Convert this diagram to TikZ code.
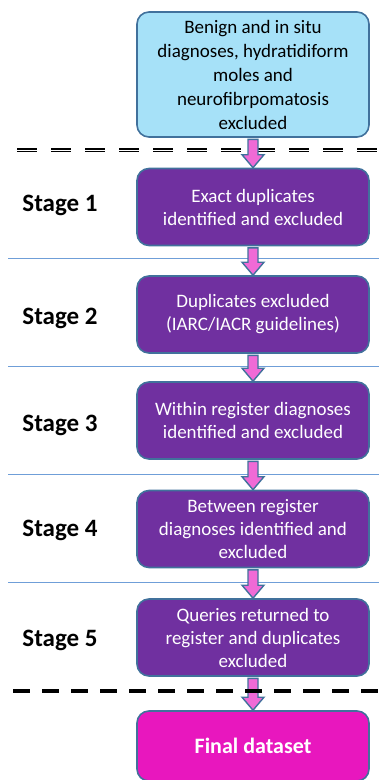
\documentclass[tikz,border=0pt]{standalone}
\usepackage{fontspec}
\setmainfont{Carlito}
\usetikzlibrary{calc}
\definecolor{boxblue}{HTML}{A6E1F8}
\definecolor{boxpurple}{HTML}{7030A0}
\definecolor{boxpink}{HTML}{E817BE}
\definecolor{edgeblue}{HTML}{41719C}
\definecolor{arrowpink}{HTML}{F06AD6}
\definecolor{rulerblue}{HTML}{6F9ED8}
\tikzset{
  stagebox/.style = {draw=edgeblue, line width=1.6pt, rounded corners=12pt,
    minimum width=232pt, align=center, inner sep=2pt,
    font=\fontsize{19}{23}\selectfont},
  intro_box/.style = {stagebox, fill=boxblue, text=black,
    minimum height=125pt, font=\fontsize{19}{24}\selectfont},% boite du haut
  step_box/.style = {stagebox, fill=boxpurple, text=white,
    minimum height=77pt},% etapes 1 a 5
  final_box/.style = {stagebox, fill=boxpink, text=white,
    minimum height=70pt, font=\fontsize{22}{24}\selectfont\bfseries},
  stage_label/.style = {font=\fontsize{25}{28}\selectfont\bfseries},
  block_arrow/.style = {draw=edgeblue, fill=arrowpink, line width=1.4pt,
    line join=miter},
  stage_rule/.style = {draw=rulerblue, line width=0.8pt},
  cut_line/.style = {draw=black, line width=4pt, dash pattern=on 17pt off 12pt}
}
% fleche epaisse entre deux boites
\newcommand{\blockarrow}[2]{%
  \path[block_arrow] let \p1=($(#1.south)+(0,-1.5pt)$), \p2=(#2.north) in
    (\x1-5pt,\y1) -- (\x1+5pt,\y1) -- (\x1+5pt,\y2+13pt) -- (\x1+11pt,\y2+13pt)
    -- (\x1,\y2) -- (\x1-11pt,\y2+13pt) -- (\x1-5pt,\y2+13pt) -- cycle;}

\begin{document}
\begin{tikzpicture}[x=1pt, y=-1pt]
  \useasboundingbox (0,0) rectangle (379,780);
  % separateurs
  \foreach \ypos in {258,366,474,582}
    \draw[stage_rule] (8,\ypos) -- (379,\ypos);
  \draw[line width=4pt, dash pattern=on 20pt off 14pt] (17,150) -- (379,150);
  \draw[white, line width=1pt, dash pattern=on 20pt off 14pt] (17,150) -- (379,150);

  \node[intro_box] (intro) at (253,74.5) {Benign and in situ\\diagnoses, hydratidiform\\moles and\\neurofibrpomatosis\\excluded};
  \node[step_box] (s1) at (253,207) {Exact duplicates\\identified and excluded};
  \node[step_box] (s2) at (253,314.5) {Duplicates excluded\\(IARC/IACR guidelines)};
  \node[step_box] (s3) at (253,420.5) {Within register diagnoses\\identified and excluded};
  \node[step_box] (s4) at (253,529) {Between register\\diagnoses identified and\\excluded};
  \node[step_box] (s5) at (253,637.5) {Queries returned to\\register and duplicates\\excluded};
  \node[final_box] (final) at (253,746) {Final dataset};

  \node[stage_label] (l1) at (60,205) {Stage 1};
  \node[stage_label] (l2) at (60,318) {Stage 2};
  \node[stage_label] (l3) at (60,425) {Stage 3};
  \node[stage_label] (l4) at (60,530) {Stage 4};
  \node[stage_label] (l5) at (60,640) {Stage 5};

  \blockarrow{intro}{s1}
  \blockarrow{s1}{s2}
  \blockarrow{s2}{s3}
  \blockarrow{s3}{s4}
  \blockarrow{s4}{s5}
  \blockarrow{s5}{final}

  \draw[cut_line] (13,691) -- (379,691);
\end{tikzpicture}
\end{document}
